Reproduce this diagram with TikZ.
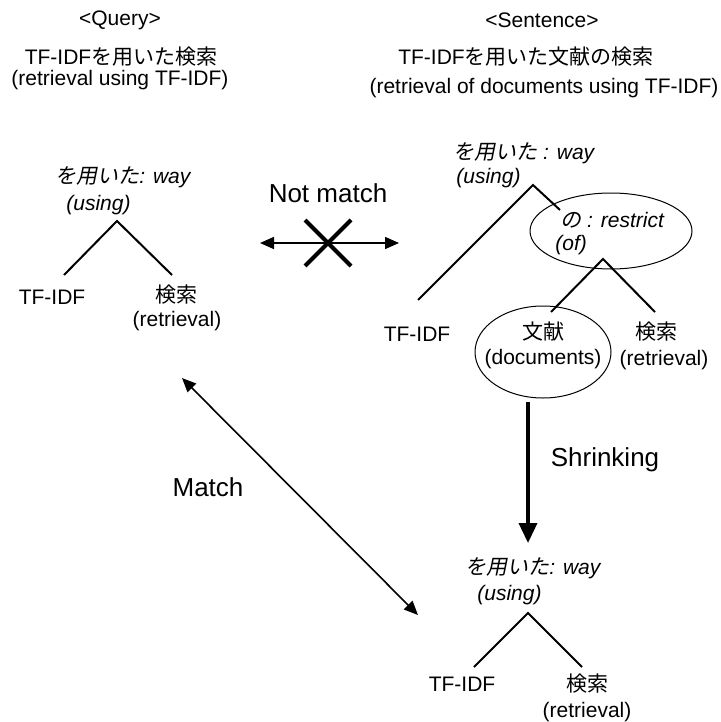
\documentclass[tikz,border=0pt]{standalone}
\usepackage{fontspec}
\setmainfont{Liberation Sans}
\newfontfamily\jpfont{Noto Sans CJK JP}
\newfontfamily\jpslant[FakeSlant=0.2]{Noto Sans CJK JP}
\usetikzlibrary{shapes.geometric,shapes.misc,arrows.meta}
\tikzset{
  word/.style={inner sep=0pt, font=\fontsize{10.5}{12}\selectfont},
  role/.style={inner sep=0pt, font=\fontsize{10.5}{12}\selectfont\itshape},
  big/.style={inner sep=0pt, font=\fontsize{13}{15}\selectfont},
  leg/.style={line width=1pt},
  bubble/.style={ellipse, draw, line width=0.5pt, inner sep=0pt},
  thinarrow/.style={line width=0.8pt, {Triangle[length=7pt,width=6pt]}-{Triangle[length=7pt,width=6pt]}},
  fatarrow/.style={line width=1.8pt, -{Triangle[length=10pt,width=9pt]}}
}

\begin{document}
\begin{tikzpicture}[x=0.5pt, y=-0.5pt]
\useasboundingbox (0,0) rectangle (721,722);
% headings
\node[word] (qtag) at (120,20) {<Query>};
\node[word] (qjp) at (121,57) {TF-IDF{\jpfont を用いた検索}};
\node[word] (qen) at (120,80) {(retrieval using TF-IDF)};
\node[word] (stag) at (542,20) {<Sentence>};
\node[word] (sjp) at (526,57) {TF-IDF{\jpfont を用いた文献の検索}};
\node[word] (sen) at (544,88) {(retrieval of documents using TF-IDF)};

% query tree
\node[role, anchor=west] (qway) at (55,177) {{\jpslant を用いた}: way};
\node[role, anchor=west] (quse) at (66,205) {(using)};
\node[word] (qtf) at (52,297) {TF-IDF};
\node[word] (qret) at (176,295) {\jpfont 検索};
\node[word] (qretE) at (177,321) {(retrieval)};
\coordinate (qtop) at (117,221);
\coordinate (qtfL) at (64,275);
\coordinate (qretL) at (172,275);
\draw[leg] (qtfL) -- (qtop) -- (qretL);

% not match
\node[big] (nm) at (328,193) {Not match};
\coordinate (nmL) at (260,243);
\coordinate (nmR) at (399,243);
\draw[thinarrow] (nmL) -- (nmR);
\node[cross out, draw, line width=2pt, inner sep=0pt, minimum size=21pt] (nmX) at (328,243) {};

% sentence tree
\node[role, anchor=west] (sway) at (453,153) {{\jpslant を用いた} : way};
\node[role, anchor=west] (suse) at (456,178) {(using)};
\node[bubble, minimum width=81pt, minimum height=38pt] (of) at (611,231) {};
\node[role, anchor=west] (ofrole) at (560,220) {{\jpslant の} : restrict};
\node[role, anchor=west] (ofuse) at (555,245) {(of)};
\node[word] (stf) at (417,334) {TF-IDF};
\node[bubble, minimum width=68pt, minimum height=46pt] (doc) at (543,352) {};
\node[word] (docjp) at (543,332) {\jpfont 文献};
\node[word] (docen) at (543,359) {(documents)};
\node[word] (sret) at (656,332) {\jpfont 検索};
\node[word] (sretE) at (664,360) {(retrieval)};
\coordinate (stop) at (533,185);
\coordinate (stfL) at (418,300);
\coordinate (sofL) at (560,210);
\coordinate (oftop) at (603,259);
\coordinate (sdocL) at (551,312);
\coordinate (sretL) at (655,312);
\draw[leg] (stfL) -- (stop) -- (sofL);
\draw[leg] (sdocL) -- (oftop) -- (sretL);

% shrinking
\coordinate (shrS) at (528,402);
\coordinate (shrE) at (528,543);
\draw[fatarrow] (shrS) -- (shrE);
\node[big] (shr) at (605,460) {Shrinking};

% shrunk tree
\node[role, anchor=west] (bway) at (465,568) {{\jpslant を用いた}: way};
\node[role, anchor=west] (buse) at (477,595) {(using)};
\node[word] (btf) at (462,684) {TF-IDF};
\node[word] (bret) at (587,684) {\jpfont 検索};
\node[word] (bretE) at (587,712) {(retrieval)};
\coordinate (btop) at (528,613);
\coordinate (btfL) at (474,667);
\coordinate (bretL) at (582,667);
\draw[leg] (btfL) -- (btop) -- (bretL);

% match
\coordinate (mA) at (182,378);
\coordinate (mB) at (418,615);
\draw[thinarrow] (mA) -- (mB);
\node[big] (mt) at (208,487) {Match};
\end{tikzpicture}
\end{document}
